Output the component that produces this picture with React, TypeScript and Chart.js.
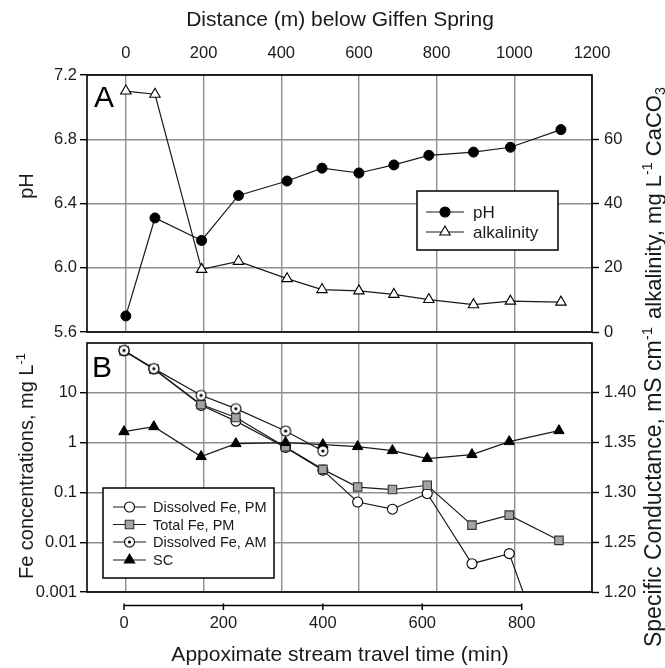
import React, { useEffect, useRef } from 'react';
import { Chart, registerables } from 'chart.js';

Chart.register(...registerables);

const FONT = '"Liberation Sans", Arial, Helvetica, sans-serif';
const INK = '#1a1a1a';
const GRID = '#909090';
const TICK_SIZE = 16.5;

// ---------- Panel A: distance below Giffen Spring ----------
const distanceM = [0, 75, 195, 290, 415, 505, 600, 690, 780, 895, 990, 1120];
const pHValues = [5.7, 6.31, 6.17, 6.45, 6.54, 6.62, 6.59, 6.64, 6.7, 6.72, 6.75, 6.86];
const alkalinityValues = [75, 74, 19.5, 22, 16.6, 13.2, 12.8, 11.7, 10.1, 8.5, 9.6, 9.3];
const distanceTicks = [0, 200, 400, 600, 800, 1000, 1200];
const pHTicks = [5.6, 6.0, 6.4, 6.8, 7.2];
const alkalinityTicks = [0, 20, 40, 60];

// ---------- Panel B: travel time ----------
const travelTimeMin = [0, 60, 155, 225, 325, 400, 470, 540, 610, 700, 775, 875];
const dissolvedFePM = [70, 30, 5.6, 2.7, 0.8, 0.28, 0.064, 0.046, 0.095, 0.0037, 0.0059, 0.00001];
const totalFePM = [70, 30, 5.8, 3.2, 0.82, 0.29, 0.128, 0.114, 0.139, 0.022, 0.035, 0.0109];
const dissolvedFeAM = [71, 30.6, 8.9, 4.8, 1.71, 0.68];
const specificConductance = [1.361, 1.366, 1.336, 1.349, 1.35, 1.348, 1.346, 1.342, 1.334, 1.338, 1.351, 1.362];
const feTicks = [0.001, 0.01, 0.1, 1, 10];
const scTicks = [1.2, 1.25, 1.3, 1.35, 1.4];
const travelTimeTicks = [0, 200, 400, 600, 800];

type Seg = { t: string; s?: 'sup' | 'sub' };

const setTicks = (vals: number[]) => (scale: any) => {
  scale.ticks = vals.map((v) => ({ value: v }));
};
const zeroPad = (scale: any) => {
  scale.paddingTop = 0;
  scale.paddingBottom = 0;
  scale.paddingLeft = 0;
  scale.paddingRight = 0;
};
const fixW = (w: number) => (scale: any) => {
  scale.width = w;
  zeroPad(scale);
};
const fixH = (h: number) => (scale: any) => {
  scale.height = h;
  zeroPad(scale);
};

function drawRich(ctx: CanvasRenderingContext2D, segs: Seg[], x: number, y: number, size: number, rot: number) {
  ctx.save();
  ctx.translate(x, y);
  ctx.rotate(rot);
  ctx.fillStyle = INK;
  ctx.textAlign = 'left';
  ctx.textBaseline = 'alphabetic';
  const fontOf = (sg: Seg) => `${sg.s ? size * 0.65 : size}px ${FONT}`;
  const widths = segs.map((sg) => {
    ctx.font = fontOf(sg);
    return ctx.measureText(sg.t).width;
  });
  const total = widths.reduce((a, b) => a + b, 0);
  let cx = -total / 2;
  const base = size * 0.36;
  segs.forEach((sg, i) => {
    ctx.font = fontOf(sg);
    const dy = sg.s === 'sup' ? -size * 0.4 : sg.s === 'sub' ? size * 0.2 : 0;
    ctx.fillText(sg.t, cx, base + dy);
    cx += widths[i];
  });
  ctx.restore();
}

type MarkerKind = 'filledCircle' | 'openTriangle' | 'openCircle' | 'graySquare' | 'dotCircle' | 'filledTriangle';

function drawMarker(ctx: CanvasRenderingContext2D, kind: MarkerKind, x: number, y: number) {
  ctx.save();
  ctx.lineWidth = 1.1;
  ctx.strokeStyle = '#000';
  ctx.beginPath();
  if (kind === 'filledCircle' || kind === 'openCircle' || kind === 'dotCircle') {
    ctx.arc(x, y, 5, 0, Math.PI * 2);
    ctx.fillStyle = kind === 'filledCircle' ? '#000' : '#fff';
    ctx.fill();
    ctx.stroke();
    if (kind === 'dotCircle') {
      ctx.beginPath();
      ctx.arc(x, y, 1.6, 0, Math.PI * 2);
      ctx.fillStyle = '#000';
      ctx.fill();
    }
  } else if (kind === 'openTriangle' || kind === 'filledTriangle') {
    const r = 6;
    ctx.moveTo(x, y - r);
    ctx.lineTo(x + 0.866 * r, y + 0.5 * r);
    ctx.lineTo(x - 0.866 * r, y + 0.5 * r);
    ctx.closePath();
    ctx.fillStyle = kind === 'filledTriangle' ? '#000' : '#fff';
    ctx.fill();
    ctx.stroke();
  } else if (kind === 'graySquare') {
    const s = 4.25;
    ctx.rect(x - s, y - s, 2 * s, 2 * s);
    ctx.fillStyle = '#a4a4a4';
    ctx.strokeStyle = '#333';
    ctx.fill();
    ctx.stroke();
  }
  ctx.restore();
}

function drawLegend(
  ctx: CanvasRenderingContext2D,
  box: { x0: number; y0: number; x1: number; y1: number },
  rows: { label: string; kind: MarkerKind; y: number }[],
  lineX0: number,
  lineX1: number,
  textX: number,
  fontSize: number
) {
  ctx.save();
  ctx.fillStyle = '#fff';
  ctx.fillRect(box.x0, box.y0, box.x1 - box.x0, box.y1 - box.y0);
  ctx.strokeStyle = '#000';
  ctx.lineWidth = 1.5;
  ctx.strokeRect(box.x0, box.y0, box.x1 - box.x0, box.y1 - box.y0);
  rows.forEach((r) => {
    ctx.beginPath();
    ctx.strokeStyle = INK;
    ctx.lineWidth = 1.2;
    ctx.moveTo(lineX0, r.y);
    ctx.lineTo(lineX1, r.y);
    ctx.stroke();
    drawMarker(ctx, r.kind, (lineX0 + lineX1) / 2, r.y);
    ctx.fillStyle = INK;
    ctx.font = `${fontSize}px ${FONT}`;
    ctx.textAlign = 'left';
    ctx.textBaseline = 'middle';
    ctx.fillText(r.label, textX, r.y + 1);
  });
  ctx.restore();
}

function makeDotCircle(r: number): HTMLCanvasElement {
  const c = document.createElement('canvas');
  const s = Math.ceil(2 * r + 4);
  c.width = s;
  c.height = s;
  const g = c.getContext('2d') as CanvasRenderingContext2D;
  const m = s / 2;
  g.beginPath();
  g.arc(m, m, r, 0, Math.PI * 2);
  g.fillStyle = '#fff';
  g.fill();
  g.lineWidth = 1.1;
  g.strokeStyle = '#000';
  g.stroke();
  g.beginPath();
  g.arc(m, m, 1.6, 0, Math.PI * 2);
  g.fillStyle = '#000';
  g.fill();
  return c;
}

const framePlugin = {
  id: 'frame',
  beforeDatasetsDraw(chart: any) {
    const { ctx, chartArea: a } = chart;
    ctx.save();
    ctx.strokeStyle = '#000';
    ctx.lineWidth = 1.6;
    ctx.strokeRect(a.left, a.top, a.right - a.left, a.bottom - a.top);
    ctx.restore();
  },
};

const tickFont = { family: FONT, size: TICK_SIZE };

const B_TOP = 300;

export default function App() {
  const refA = useRef<HTMLCanvasElement>(null);
  const refB = useRef<HTMLCanvasElement>(null);

  useEffect(() => {
    if (!refA.current || !refB.current) return;

    const textA = {
      id: 'textA',
      afterDraw(chart: any) {
        const ctx = chart.ctx as CanvasRenderingContext2D;
        drawRich(ctx, [{ t: 'Distance (m) below Giffen Spring' }], 340, 18, 21, 0);
        drawRich(ctx, [{ t: 'pH' }], 26, 186, 20, -Math.PI / 2);
        drawRich(
          ctx,
          [{ t: 'alkalinity, mg L' }, { t: '-1', s: 'sup' }, { t: ' CaCO' }, { t: '3', s: 'sub' }],
          653,
          203,
          22,
          -Math.PI / 2
        );
        ctx.save();
        ctx.fillStyle = '#000';
        ctx.font = `30px ${FONT}`;
        ctx.textAlign = 'left';
        ctx.textBaseline = 'alphabetic';
        ctx.fillText('A', 94, 107);
        ctx.restore();
        drawLegend(
          ctx,
          { x0: 417, y0: 191, x1: 558, y1: 250 },
          [
            { label: 'pH', kind: 'filledCircle', y: 212 },
            { label: 'alkalinity', kind: 'openTriangle', y: 232 },
          ],
          426,
          464,
          473,
          17
        );
      },
    };

    const chartA = new Chart(refA.current, {
      type: 'line',
      data: {
        datasets: [
          {
            label: 'pH',
            data: distanceM.map((d, i) => ({ x: d, y: pHValues[i] })),
            xAxisID: 'x',
            yAxisID: 'y',
            borderColor: INK,
            borderWidth: 1.2,
            pointStyle: 'circle',
            pointRadius: 5,
            pointBackgroundColor: '#000',
            pointBorderColor: '#000',
            pointBorderWidth: 1,
          },
          {
            label: 'alkalinity',
            data: distanceM.map((d, i) => ({ x: d, y: alkalinityValues[i] })),
            xAxisID: 'x',
            yAxisID: 'y2',
            borderColor: INK,
            borderWidth: 1.2,
            pointStyle: 'triangle',
            pointRadius: 6,
            pointBackgroundColor: '#fff',
            pointBorderColor: '#000',
            pointBorderWidth: 1.1,
          },
        ],
      } as any,
      options: {
        responsive: false,
        maintainAspectRatio: false,
        animation: false,
        events: [],
        layout: { padding: { top: 0, left: 0, right: 0, bottom: 8 }, autoPadding: false },
        plugins: { legend: { display: false }, tooltip: { enabled: false } },
        scales: {
          x: {
            type: 'linear',
            position: 'top',
            min: -100,
            max: 1200,
            afterBuildTicks: setTicks(distanceTicks),
            afterFit: fixH(75),
            grid: { color: GRID, lineWidth: 1.4, drawTicks: false },
            border: { display: false },
            ticks: {
              font: tickFont,
              color: INK,
              padding: 12,
              maxRotation: 0,
              autoSkip: false,
              callback: (v: any) => String(v),
            },
          },
          y: {
            type: 'linear',
            position: 'left',
            min: 5.6,
            max: 7.2,
            afterBuildTicks: setTicks(pHTicks),
            afterFit: fixW(87),
            grid: { color: GRID, lineWidth: 1.4, tickColor: '#000', tickLength: 7, tickWidth: 1.4 },
            border: { display: false },
            ticks: { font: tickFont, color: INK, padding: 3, callback: (v: any) => Number(v).toFixed(1) },
          },
          y2: {
            type: 'linear',
            position: 'right',
            min: 0,
            max: 80,
            afterBuildTicks: setTicks(alkalinityTicks),
            afterFit: fixW(73),
            grid: { drawOnChartArea: false, color: GRID, tickColor: '#000', tickLength: 7, tickWidth: 1.4 },
            border: { display: false },
            ticks: { font: tickFont, color: INK, padding: 5, callback: (v: any) => String(v) },
          },
        },
      } as any,
      plugins: [framePlugin, textA],
    });

    const dotCircle = makeDotCircle(5);

    const textB = {
      id: 'textB',
      afterDraw(chart: any) {
        const ctx = chart.ctx as CanvasRenderingContext2D;
        const o = B_TOP;
        // travel time axis line (0..800) below the panel
        const sx = chart.scales.x;
        const ly = 605.5 - o;
        const x0 = sx.getPixelForValue(travelTimeTicks[0]);
        const x1 = sx.getPixelForValue(travelTimeTicks[travelTimeTicks.length - 1]);
        ctx.save();
        ctx.strokeStyle = '#000';
        ctx.lineWidth = 1.5;
        ctx.beginPath();
        ctx.moveTo(x0, ly);
        ctx.lineTo(x1, ly);
        travelTimeTicks.forEach((t) => {
          const px = sx.getPixelForValue(t);
          ctx.moveTo(px, ly - 2);
          ctx.lineTo(px, ly + 4.5);
        });
        ctx.stroke();
        ctx.restore();

        drawRich(ctx, [{ t: 'Appoximate stream travel time (min)' }], 340, 653 - o, 21, 0);
        drawRich(ctx, [{ t: 'Fe concentrations, mg L' }, { t: '-1', s: 'sup' }], 26, 466 - o, 20, -Math.PI / 2);
        drawRich(
          ctx,
          [{ t: 'Specific Conductance, mS cm' }, { t: '-1', s: 'sup' }],
          653,
          487 - o,
          23,
          -Math.PI / 2
        );
        ctx.save();
        ctx.fillStyle = '#000';
        ctx.font = `30px ${FONT}`;
        ctx.textAlign = 'left';
        ctx.textBaseline = 'alphabetic';
        ctx.fillText('B', 92, 377 - o);
        ctx.restore();
        drawLegend(
          ctx,
          { x0: 103, y0: 488 - o, x1: 274, y1: 578 - o },
          [
            { label: 'Dissolved Fe, PM', kind: 'openCircle', y: 507 - o },
            { label: 'Total Fe, PM', kind: 'graySquare', y: 524.5 - o },
            { label: 'Dissolved Fe, AM', kind: 'dotCircle', y: 542 - o },
            { label: 'SC', kind: 'filledTriangle', y: 560 - o },
          ],
          113,
          146,
          153,
          14.5
        );
      },
    };

    const chartB = new Chart(refB.current, {
      type: 'line',
      data: {
        datasets: [
          {
            label: 'Dissolved Fe, AM',
            data: dissolvedFeAM.map((v, i) => ({ x: travelTimeMin[i], y: v })),
            xAxisID: 'x',
            yAxisID: 'y',
            borderColor: INK,
            borderWidth: 1.2,
            pointStyle: dotCircle,
            pointRadius: 5,
          },
          {
            label: 'SC',
            data: travelTimeMin.map((t, i) => ({ x: t, y: specificConductance[i] })),
            xAxisID: 'x',
            yAxisID: 'y2',
            borderColor: INK,
            borderWidth: 1.2,
            pointStyle: 'triangle',
            pointRadius: 6,
            pointBackgroundColor: '#000',
            pointBorderColor: '#000',
            pointBorderWidth: 1,
          },
          {
            label: 'Total Fe, PM',
            data: travelTimeMin.map((t, i) => ({ x: t, y: totalFePM[i] })),
            xAxisID: 'x',
            yAxisID: 'y',
            borderColor: INK,
            borderWidth: 1.2,
            pointStyle: 'rect',
            pointRadius: 6,
            pointBackgroundColor: '#a4a4a4',
            pointBorderColor: '#333',
            pointBorderWidth: 1.1,
          },
          {
            label: 'Dissolved Fe, PM',
            data: travelTimeMin.map((t, i) => ({ x: t, y: dissolvedFePM[i] })),
            xAxisID: 'x',
            yAxisID: 'y',
            borderColor: INK,
            borderWidth: 1.2,
            pointStyle: 'circle',
            pointRadius: 5,
            pointBackgroundColor: '#fff',
            pointBorderColor: '#000',
            pointBorderWidth: 1.1,
          },
        ],
      } as any,
      options: {
        responsive: false,
        maintainAspectRatio: false,
        animation: false,
        events: [],
        layout: { padding: { top: 343 - B_TOP, left: 0, right: 0, bottom: 0 }, autoPadding: false },
        plugins: { legend: { display: false }, tooltip: { enabled: false } },
        scales: {
          x: {
            type: 'linear',
            position: 'bottom',
            min: -74.5,
            max: 941.5,
            afterBuildTicks: setTicks(travelTimeTicks),
            afterFit: fixH(668 - 592),
            grid: { display: false, drawTicks: false },
            border: { display: false },
            ticks: {
              font: tickFont,
              color: INK,
              padding: 22,
              maxRotation: 0,
              autoSkip: false,
              callback: (v: any) => String(v),
            },
          },
          xd: {
            type: 'linear',
            position: 'top',
            min: -100,
            max: 1200,
            afterBuildTicks: setTicks(distanceTicks),
            afterFit: fixH(0),
            grid: { color: GRID, lineWidth: 1.4, drawTicks: false },
            border: { display: false },
            ticks: { display: false },
          },
          y: {
            type: 'logarithmic',
            position: 'left',
            min: 0.001,
            max: 100,
            afterBuildTicks: setTicks(feTicks),
            afterFit: fixW(87),
            grid: { color: GRID, lineWidth: 1.4, tickColor: '#000', tickLength: 7, tickWidth: 1.4 },
            border: { display: false },
            ticks: { font: tickFont, color: INK, padding: 3, callback: (v: any) => String(v) },
          },
          y2: {
            type: 'linear',
            position: 'right',
            min: 1.2,
            max: 1.45,
            afterBuildTicks: setTicks(scTicks),
            afterFit: fixW(73),
            grid: { drawOnChartArea: false, color: GRID, tickColor: '#000', tickLength: 7, tickWidth: 1.4 },
            border: { display: false },
            ticks: { font: tickFont, color: INK, padding: 5, callback: (v: any) => Number(v).toFixed(2) },
          },
        },
      } as any,
      plugins: [framePlugin, textB],
    });

    return () => {
      chartA.destroy();
      chartB.destroy();
    };
  }, []);

  return (
    <div style={{ position: 'absolute', left: 0, top: 0, width: 665, height: 668, background: '#fff' }}>
      <canvas
        ref={refA}
        width={665}
        height={340}
        style={{ position: 'absolute', left: 0, top: 0, width: 665, height: 340 }}
      />
      <canvas
        ref={refB}
        width={665}
        height={668 - B_TOP}
        style={{ position: 'absolute', left: 0, top: B_TOP, width: 665, height: 668 - B_TOP }}
      />
    </div>
  );
}
